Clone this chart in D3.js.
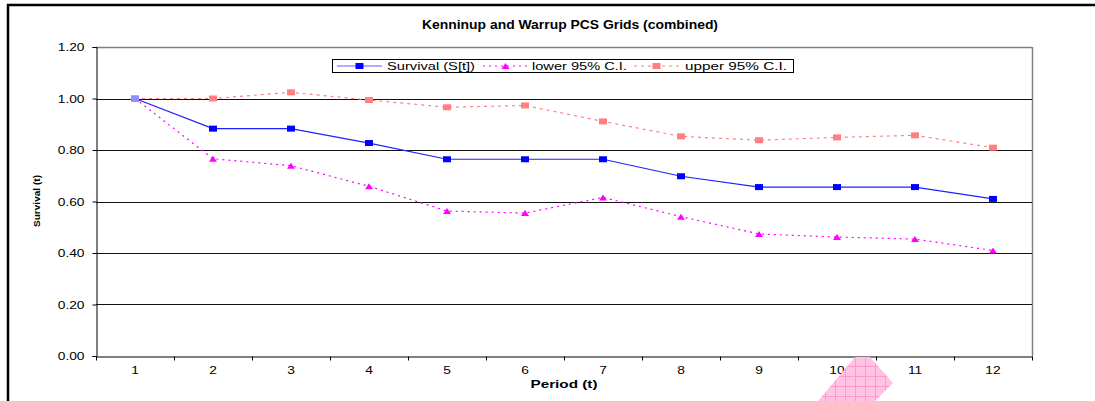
<!DOCTYPE html>
<html><head><meta charset="utf-8">
<script src="https://cdn.jsdelivr.net/npm/d3@7"></script>
<style>body{margin:0;background:#fff;}svg{display:block;font-family:"Liberation Sans",Arial,sans-serif;}</style>
</head><body>
<svg id="c" width="1095" height="401"></svg>
<script>
const periods = ["1","2","3","4","5","6","7","8","9","10","11","12"];
const survival = [1.000,0.883,0.883,0.827,0.764,0.764,0.764,0.698,0.656,0.656,0.656,0.610];
const lowerCI = [1.000,0.766,0.739,0.659,0.563,0.555,0.616,0.541,0.474,0.462,0.454,0.410];
const upperCI = [1.000,1.000,1.024,0.994,0.966,0.973,0.911,0.853,0.838,0.849,0.857,0.809];
const yTicks = [0,0.2,0.4,0.6,0.8,1.0,1.2];
const seriesNames = ["Survival (S[t])","lower 95% C.I.","upper  95% C.I."];

const svg = d3.select("#c");
const L=96,R=1032,T=47,B=356;
const x = d3.scaleBand().domain(periods).range([L,R]);
const y = d3.scaleLinear().domain([0,1.2]).range([B,T]);
const cx = d=>x(d)+x.bandwidth()/2;

// outer border
svg.append("rect").attr("x",8).attr("y",5).attr("width",1200).attr("height",500)
  .attr("fill","none").attr("stroke","#000").attr("stroke-width",2.5);

// title
svg.append("text").attr("class","st").attr("x",570).attr("y",29).attr("text-anchor","middle")
  .attr("font-weight","bold").attr("font-size",12).attr("textLength",296).attr("lengthAdjust","spacingAndGlyphs")
  .text("Kenninup and Warrup PCS Grids (combined)");

// plot frame top/right gray
svg.append("line").attr("x1",L).attr("x2",R).attr("y1",T+0.5).attr("y2",T+0.5).attr("stroke","#808080").attr("stroke-width",1.5);
svg.append("line").attr("x1",R+0.5).attr("x2",R+0.5).attr("y1",T).attr("y2",B).attr("stroke","#808080").attr("stroke-width",1.5);

// gridlines
svg.append("g").selectAll("line").data(yTicks.filter(v=>v>0&&v<1.2)).join("line")
  .attr("x1",L).attr("x2",R).attr("y1",d=>Math.round(y(d))+0.5).attr("y2",d=>Math.round(y(d))+0.5)
  .attr("stroke","#111").attr("stroke-width",1);

// y axis
const ya = svg.append("g").attr("transform",`translate(${L+0.5},0)`)
  .call(d3.axisLeft(y).tickValues(yTicks).tickFormat(d3.format(".2f")).tickSize(4).tickPadding(8));
ya.select(".domain").attr("stroke","#000");
ya.selectAll("text").attr("class","st").attr("font-size",11).attr("font-family","Liberation Sans, Arial, sans-serif").attr("fill","#000");

// x axis
const xa = svg.append("g").attr("transform",`translate(0,${B+0.5})`)
  .call(d3.axisBottom(x).tickSize(0).tickPadding(10));
xa.select(".domain").attr("stroke","#000");
xa.selectAll("text").attr("class","st").attr("font-size",11).attr("font-family","Liberation Sans, Arial, sans-serif").attr("fill","#000");
xa.selectAll(".bt").data(periods.concat(["end"])).join("line")
  .attr("x1",(d,i)=>Math.round(L+i*x.bandwidth())+0.5).attr("x2",(d,i)=>Math.round(L+i*x.bandwidth())+0.5)
  .attr("y1",0).attr("y2",4).attr("stroke","#000");

// axis titles
svg.append("text").attr("x",564).attr("y",388).attr("text-anchor","middle")
  .attr("font-weight","bold").attr("font-size",11).attr("textLength",67).attr("lengthAdjust","spacingAndGlyphs").text("Period (t)");
svg.append("text").attr("transform","translate(40,201) rotate(-90)").attr("text-anchor","middle")
  .attr("font-weight","bold").attr("font-size",9).attr("textLength",52).attr("lengthAdjust","spacingAndGlyphs").text("Survival (t)");

// lines
const line = d3.line().x((d,i)=>cx(periods[i])).y(d=>y(d));
svg.append("path").datum(upperCI).attr("d",line).attr("fill","none").attr("stroke","#FF8080").attr("stroke-width",1.2).attr("stroke-dasharray","3,4");
svg.append("path").datum(lowerCI).attr("d",line).attr("fill","none").attr("stroke","#FF00FF").attr("stroke-width",1.2).attr("stroke-dasharray","2,4");
svg.append("path").datum(survival).attr("d",line).attr("fill","none").attr("stroke","#2020FF").attr("stroke-width",1.2);

// markers
svg.append("g").selectAll("rect").data(upperCI).join("rect")
  .attr("x",(d,i)=>cx(periods[i])-4).attr("y",d=>y(d)-3).attr("width",8).attr("height",6).attr("fill","#FF8080");
svg.append("g").selectAll("path").data(lowerCI).join("path")
  .attr("d",(d,i)=>{const px=cx(periods[i]),py=y(d);return `M${px-4},${py+3}L${px},${py-3}L${px+4},${py+3}Z`;})
  .attr("fill","#FF00FF");
svg.append("g").selectAll("rect").data(survival).join("rect")
  .attr("x",(d,i)=>cx(periods[i])-4).attr("y",d=>y(d)-3).attr("width",8).attr("height",6)
  .attr("fill",(d,i)=>i===0?"#9090FF":"#0000FF");

// legend
const lg = svg.append("g");
lg.append("rect").attr("x",332.5).attr("y",59.5).attr("width",461).attr("height",13).attr("fill","#fff").attr("stroke","#000");
const ly=66;
const items=[{x0:337,tx:387,w:88,col:"#6060FF",dash:null,mk:"sq",mc:"#0000FF"},
             {x0:483,tx:532,w:95,col:"#FF00FF",dash:"2,4",mk:"tri",mc:"#FF00FF"},
             {x0:634,tx:685,w:102,col:"#FF8080",dash:"3,4",mk:"sq",mc:"#FF8080"}];
items.forEach((it,i)=>{
  lg.append("line").attr("x1",it.x0).attr("x2",it.x0+45).attr("y1",ly).attr("y2",ly).attr("stroke",it.col).attr("stroke-width",1.2).attr("stroke-dasharray",it.dash);
  const mx=it.x0+22.5;
  if(it.mk==="sq") lg.append("rect").attr("x",mx-4).attr("y",ly-3).attr("width",8).attr("height",6).attr("fill",it.mc);
  else lg.append("path").attr("d",`M${mx-4},${ly+3}L${mx},${ly-3}L${mx+4},${ly+3}Z`).attr("fill",it.mc);
  lg.append("text").attr("x",it.tx).attr("y",ly+4).attr("font-size",10.5)
    .attr("textLength",it.w).attr("lengthAdjust","spacingAndGlyphs").text(seriesNames[i]);
});

// stretch tick labels horizontally like the reference rendering
svg.selectAll(".tick text").each(function(){
  const w=this.getComputedTextLength();
  d3.select(this).attr("textLength",w*1.25).attr("lengthAdjust","spacingAndGlyphs");
});

// pink hatched overlay artifact
const defs=svg.append("defs");
const pat=defs.append("pattern").attr("id","hatch").attr("patternUnits","userSpaceOnUse").attr("width",10).attr("height",10).attr("patternTransform","translate(855,356)");
pat.append("rect").attr("width",10).attr("height",10).attr("fill","#FFC4E4");
pat.append("path").attr("d","M0,0.5H10M0.5,0V10").attr("stroke","#FF99CC").attr("stroke-width",1);
svg.append("polygon").attr("points","855,357 870,357 893,383 875,401 818,401").attr("fill","url(#hatch)");
</script>
</body></html>
